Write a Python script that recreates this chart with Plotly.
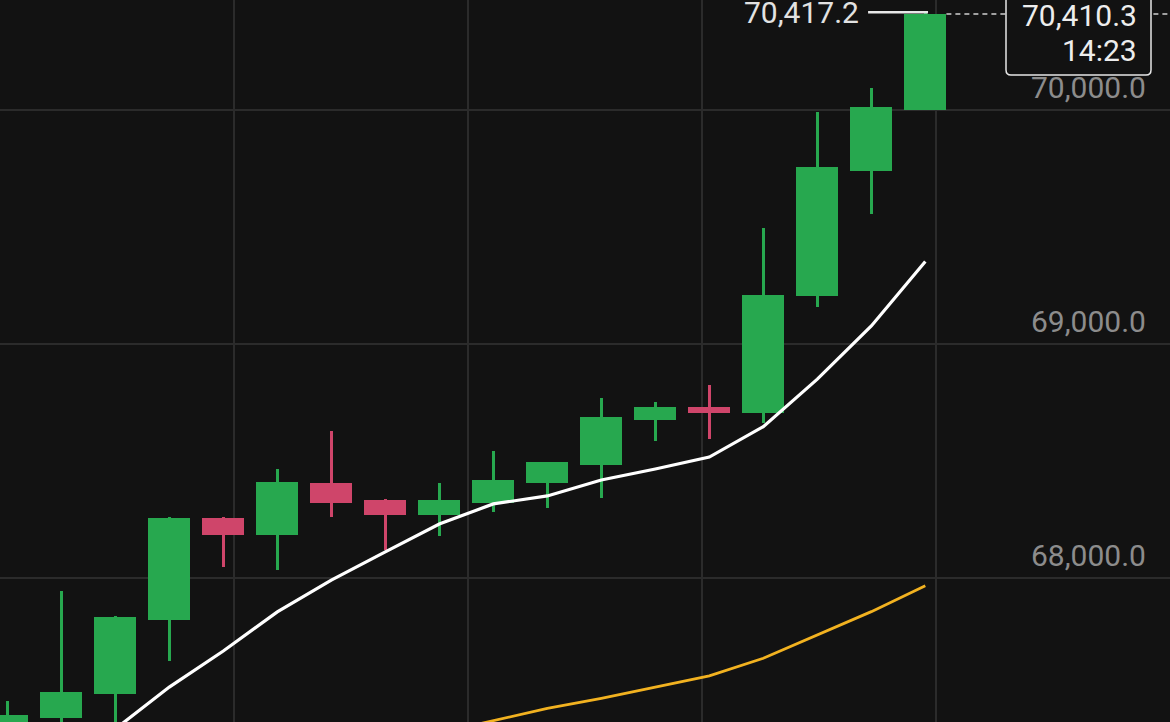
import plotly.graph_objects as go

# ---- data ----
candle_idx = list(range(18))
opens  = [67250, 67405, 67505, 67824, 68258, 68187, 68406, 68336, 68269, 68323,
          68406, 68483, 68675, 68731, 68705, 69206, 69738, 70000]
closes = [67417, 67516, 67835, 68258, 68187, 68412, 68323, 68271, 68333, 68419,
          68496, 68688, 68731, 68705, 69211, 69755, 70013, 70410.3]
highs  = [67478, 67947, 67840, 68262, 68261, 68468, 68629, 68340, 68409, 68544,
          68498, 68769, 68754, 68826, 69497, 69991, 70095, 70417.2]
lows   = [67200, 67380, 67350, 67649, 68047, 68036, 68261, 68121, 68181, 68285,
          68299, 68345, 68587, 68595, 68662, 69160, 69555, 70000]

ma_fast_idx = list(range(1, 18))
ma_fast = [67165, 67357, 67536, 67690, 67857, 67993, 68113, 68232, 68318, 68352,
           68420, 68467, 68518, 68648, 68851, 69078, 69353]

ma_slow_idx = list(range(8, 18))
ma_slow = [67340, 67392, 67445, 67488, 67535, 67584, 67659, 67758, 67858, 67969]

y_tick_vals = [68000, 69000, 70000]
y_tick_text = ["68,000.0", "69,000.0", "70,000.0"]
time_grid_x = [4.2, 8.533, 12.867, 17.2]

high_label = "70,417.2"
last_price_label = "70,410.3"
last_time_label = "14:23"

# ---- styles ----
BG = "#121212"
GRID = "#2b2b2b"
UP = "#27a84f"
DOWN = "#cf456a"
FONT = "Roboto"

colors = [UP if c >= o else DOWN for o, c in zip(opens, closes)]
body_base = [min(o, c) for o, c in zip(opens, closes)]
body_len = [max(abs(c - o), 1.0) for o, c in zip(opens, closes)]
wick_len = [h - l for h, l in zip(highs, lows)]

fig = go.Figure()
fig.add_trace(go.Bar(x=candle_idx, y=wick_len, base=lows, width=0.056,
                     marker=dict(color=colors, line=dict(width=0)),
                     hoverinfo="skip", showlegend=False))
fig.add_trace(go.Bar(x=candle_idx, y=body_len, base=body_base, width=0.78,
                     marker=dict(color=colors, line=dict(width=0)),
                     hoverinfo="skip", showlegend=False))
fig.add_trace(go.Scatter(x=ma_fast_idx, y=ma_fast, mode="lines",
                         line=dict(color="#ffffff", width=3.2),
                         hoverinfo="skip", showlegend=False))
fig.add_trace(go.Scatter(x=ma_slow_idx, y=ma_slow, mode="lines",
                         line=dict(color="#f2b220", width=2.8),
                         hoverinfo="skip", showlegend=False))

last = candle_idx[-1]

# dashed last-price line
fig.add_shape(type="line", xref="x", yref="y", x0=last + 0.39, x1=21.6,
              y0=closes[-1], y1=closes[-1],
              line=dict(color="#d0d0d0", width=1.5, dash="5px,4px"), layer="above")

# high marker line + label
fig.add_shape(type="line", xref="x", yref="y", x0=last - 1.06, x1=last + 0.05,
              y0=highs[-1], y1=highs[-1],
              line=dict(color="#e8e8e8", width=2.5), layer="above")
fig.add_annotation(x=last, y=highs[-1], xref="x", yref="y", text=high_label,
                   showarrow=False, xanchor="right", yanchor="middle", xshift=-64,
                   font=dict(family=FONT, size=30, color="#e2e2e2"))

# last-price box (rounded bottom corners)
x0, x1 = 1006 / 1170, 1151 / 1170
yb = 1 - 75 / 722
rx, ry = 5 / 1170, 5 / 722
path = (f"M {x0},1.05 L {x0},{yb + ry} Q {x0},{yb} {x0 + rx},{yb} "
        f"L {x1 - rx},{yb} Q {x1},{yb} {x1},{yb + ry} L {x1},1.05 Z")
fig.add_shape(type="path", xref="paper", yref="paper", path=path,
              fillcolor=BG, line=dict(color="#e6e6e6", width=1.5), layer="above")
fig.add_annotation(x=1, y=closes[-1], xref="paper", yref="y", text=last_price_label,
                   showarrow=False, xanchor="right", yanchor="middle", xshift=-31, yshift=-2,
                   font=dict(family=FONT, size=30, color="#ededed"))
fig.add_annotation(x=1, y=closes[-1], xref="paper", yref="y", text=last_time_label,
                   showarrow=False, xanchor="right", yanchor="middle", xshift=-31, yshift=-37,
                   font=dict(family=FONT, size=30, color="#ededed"))

# y-axis price labels (inside, above grid lines)
for v, t in zip(y_tick_vals, y_tick_text):
    fig.add_annotation(x=1, y=v, xref="paper", yref="y", text=t, showarrow=False,
                       xanchor="right", yanchor="middle", xshift=-22, yshift=23,
                       font=dict(family=FONT, size=30, color="#8c8c8c"))

fig.update_layout(
    width=1170, height=722,
    margin=dict(l=0, r=0, t=0, b=0),
    paper_bgcolor=BG, plot_bgcolor=BG,
    barmode="overlay", bargap=0,
    showlegend=False, hovermode=False,
    xaxis=dict(range=[-0.135, 21.531], tickvals=time_grid_x, showticklabels=False,
               showgrid=True, gridcolor=GRID, gridwidth=1.5, zeroline=False,
               showline=False, ticks="", fixedrange=True),
    yaxis=dict(range=[67386.8, 70469.7], tickvals=y_tick_vals, showticklabels=False,
               showgrid=True, gridcolor=GRID, gridwidth=1.5, zeroline=False,
               showline=False, ticks="", fixedrange=True),
)

fig.write_html(
    "out.html",
    config={"displayModeBar": False},
    post_script="document.body.style.margin='0';document.body.style.background='#121212';document.body.style.overflow='hidden';",
)
